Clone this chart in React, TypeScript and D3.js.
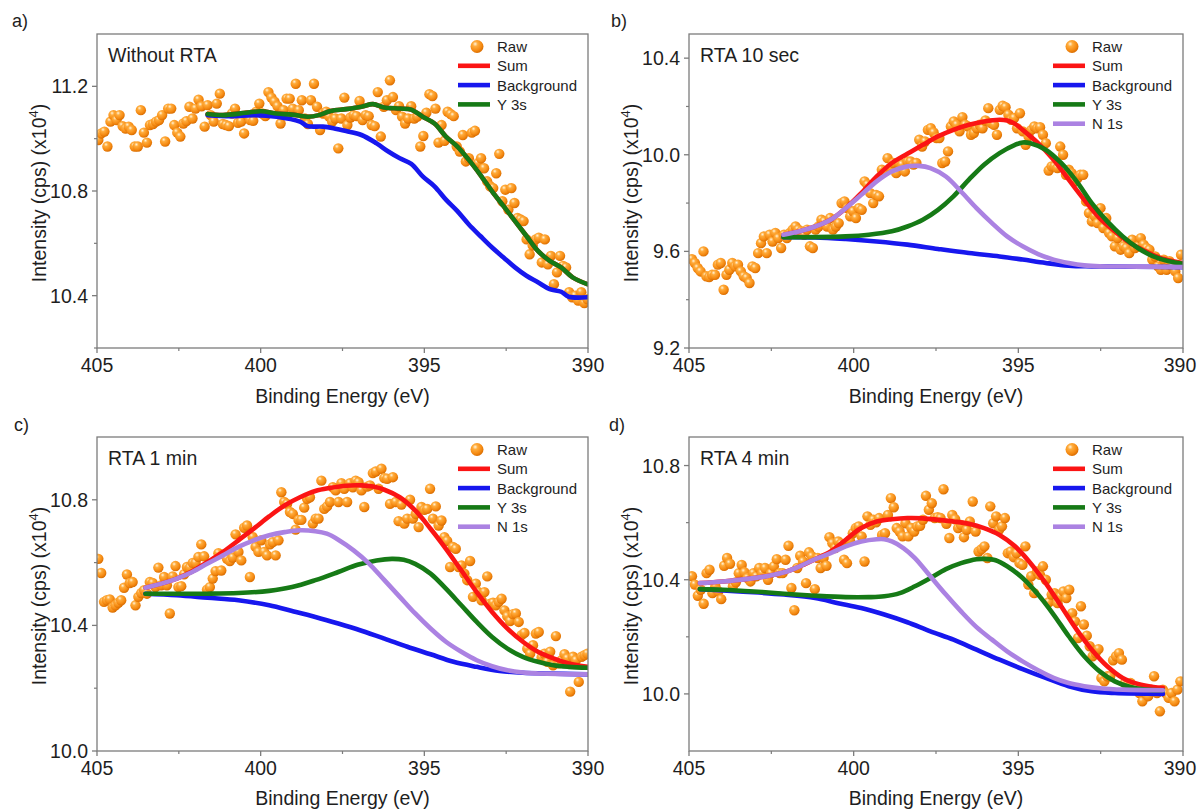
import React from 'react';
import * as d3 from 'd3';

const FONT = "'Liberation Sans', Arial, Helvetica, sans-serif";
const PAGE_W = 1197;
const PAGE_H = 810;

// ---------- shared axis data ----------
const xDomain = [405, 390];
const xMajorTicks = [405, 400, 395, 390];
const xMinorTicks = [402.5, 397.5, 392.5];

// ---------- panel a: Without RTA ----------
const aRawSpan = [404.96, 390.02];
const aRaw = [
  10.995, 11.020, 11.027, 10.970, 11.065, 11.090, 11.071, 11.090, 11.048, 11.039,
  11.046, 11.033, 10.970, 10.970, 11.109, 11.023, 10.985, 11.052, 11.056, 11.065,
  11.071, 11.090, 10.989, 11.115, 11.115, 11.052, 11.023, 11.008, 11.058, 11.067,
  11.122, 11.077, 11.115, 11.149, 11.124, 11.046, 11.128, 11.090, 11.065, 11.134,
  11.172, 11.056, 11.052, 11.048, 11.096, 11.115, 11.061, 11.065, 11.020, 11.090,
  11.071, 11.068, 11.103, 11.134, 11.096, 11.086, 11.178, 11.157, 11.141, 11.124,
  11.058, 11.109, 11.153, 11.153, 11.115, 11.210, 11.109, 11.147, 11.077, 11.056,
  11.147, 11.210, 11.122, 11.033, 11.096, 11.103, 11.084, 11.065, 11.077, 10.963,
  11.077, 11.157, 11.052, 11.081, 11.090, 11.086, 11.144, 11.071, 11.090, 11.086,
  11.052, 11.048, 11.178, 11.008, 11.122, 11.147, 11.223, 11.159, 11.109, 11.124,
  11.084, 11.058, 11.077, 11.124, 11.077, 11.084, 10.970, 11.010, 11.099, 11.170,
  11.163, 11.115, 10.985, 11.052, 10.992, 11.103, 11.094, 11.086, 10.970, 10.951,
  11.014, 10.913, 10.925, 11.023, 11.030, 10.906, 10.925, 10.887, 10.837, 10.818,
  10.811, 10.868, 10.942, 10.761, 10.805, 10.729, 10.811, 10.754, 10.697, 10.691,
  10.685, 10.615, 10.558, 10.592, 10.615, 10.622, 10.527, 10.615, 10.520, 10.552,
  10.444, 10.489, 10.552, 10.514, 10.508, 10.413, 10.394, 10.400, 10.381, 10.413,
  10.372, 10.387,
];
const aBackground = [
  [401.62, 11.090], [400.92, 11.086], [400.21, 11.090], [399.51, 11.084], [398.80, 11.065],
  [398.57, 11.048], [398.10, 11.046], [397.75, 11.039], [397.39, 11.029], [396.92, 11.014],
  [396.46, 10.982], [396.10, 10.951], [395.75, 10.925], [395.40, 10.904], [395.05, 10.856],
  [394.69, 10.818], [394.34, 10.767], [393.99, 10.723], [393.64, 10.672], [393.29, 10.628],
  [392.93, 10.584], [392.58, 10.546], [392.23, 10.508], [391.88, 10.476], [391.53, 10.451],
  [391.17, 10.425], [390.82, 10.415], [390.59, 10.396], [390.02, 10.394],
];
const aY3s = [
  [401.62, 11.094], [401.15, 11.090], [400.45, 11.099], [399.98, 11.105], [399.51, 11.096],
  [399.04, 11.092], [398.57, 11.084], [398.22, 11.090], [397.86, 11.106], [397.39, 11.113],
  [396.92, 11.122], [396.57, 11.132], [396.22, 11.119], [395.75, 11.115], [395.40, 11.111],
  [395.05, 11.084], [394.69, 11.058], [394.34, 11.008], [393.99, 10.970], [393.64, 10.919],
  [393.29, 10.862], [392.93, 10.799], [392.58, 10.742], [392.23, 10.685], [391.88, 10.628],
  [391.53, 10.571], [391.17, 10.533], [390.82, 10.508], [390.47, 10.470], [390.02, 10.444],
];
const aSum = aY3s;
const aYTicks = [10.4, 10.8, 11.2];
const aYMinor = [10.2, 10.6, 11.0];

// ---------- panel b: RTA 10 sec ----------
const bRawSpan = [404.91, 390.06];
const bRaw = [
  9.568, 9.552, 9.531, 9.517, 9.600, 9.497, 9.494, 9.503, 9.503, 9.545,
  9.552, 9.441, 9.503, 9.524, 9.552, 9.538, 9.545, 9.517, 9.497, 9.490,
  9.469, 9.538, 9.531, 9.593, 9.634, 9.662, 9.593, 9.669, 9.641, 9.676,
  9.655, 9.614, 9.669, 9.655, 9.676, 9.690, 9.703, 9.690, 9.683, 9.669,
  9.690, 9.621, 9.614, 9.690, 9.703, 9.731, 9.724, 9.703, 9.738, 9.690,
  9.703, 9.717, 9.800, 9.807, 9.779, 9.745, 9.766, 9.738, 9.779, 9.772,
  9.890, 9.876, 9.841, 9.800, 9.834, 9.828, 9.938, 9.931, 9.986, 9.945,
  9.966, 9.924, 9.966, 9.959, 9.931, 9.972, 9.972, 9.959, 9.966, 10.062,
  10.034, 10.055, 10.103, 10.110, 10.092, 10.069, 10.069, 9.966, 9.972, 10.014,
  10.117, 10.138, 10.124, 10.097, 10.156, 10.124, 10.117, 10.083, 10.090, 10.110,
  10.124, 10.110, 10.142, 10.193, 10.131, 10.124, 10.083, 10.186, 10.203, 10.197,
  10.166, 10.145, 10.152, 10.110, 10.172, 10.097, 10.041, 10.076, 10.103, 10.117,
  10.110, 10.114, 10.083, 10.048, 9.935, 9.952, 9.952, 9.945, 10.034, 10.000,
  9.917, 9.938, 9.924, 9.890, 9.903, 9.917, 9.917, 9.807, 9.759, 9.724,
  9.745, 9.717, 9.779, 9.697, 9.738, 9.676, 9.662, 9.621, 9.655, 9.607,
  9.621, 9.614, 9.593, 9.648, 9.614, 9.621, 9.655, 9.628, 9.614, 9.607,
  9.566, 9.579, 9.538, 9.524, 9.566, 9.524, 9.559, 9.538, 9.517, 9.490,
  9.586,
];
const bNitrogen = [
  [402.13, 9.669], [401.64, 9.683], [401.17, 9.703], [400.70, 9.731], [400.24, 9.779],
  [399.77, 9.834], [399.30, 9.890], [398.84, 9.931], [398.37, 9.952], [398.02, 9.954],
  [397.67, 9.945], [397.20, 9.910], [396.74, 9.848], [396.27, 9.779], [395.80, 9.717],
  [395.34, 9.662], [394.87, 9.621], [394.40, 9.589], [393.93, 9.566], [393.47, 9.552],
  [393.00, 9.542], [392.53, 9.538], [391.37, 9.537], [390.00, 9.535],
];
const bSum = [
  [402.13, 9.669], [401.64, 9.683], [401.17, 9.703], [400.70, 9.731], [400.24, 9.779],
  [399.77, 9.841], [399.30, 9.910], [398.84, 9.966], [398.37, 10.004], [397.90, 10.041],
  [397.44, 10.076], [396.97, 10.103], [396.50, 10.124], [396.04, 10.138], [395.57, 10.145],
  [395.34, 10.142], [395.10, 10.128], [394.87, 10.103], [394.40, 10.048], [393.93, 9.979],
  [393.47, 9.897], [393.00, 9.814], [392.53, 9.738], [392.07, 9.683], [391.60, 9.634],
  [391.13, 9.600], [390.67, 9.572], [390.00, 9.552],
];
const bY3s = [
  [402.13, 9.659], [401.17, 9.659], [400.24, 9.662], [399.54, 9.669], [398.84, 9.683],
  [398.37, 9.703], [397.90, 9.731], [397.44, 9.772], [396.97, 9.828], [396.50, 9.897],
  [396.04, 9.959], [395.57, 10.007], [395.10, 10.041], [394.87, 10.051], [394.63, 10.048],
  [394.17, 10.021], [393.70, 9.966], [393.23, 9.890], [392.77, 9.800], [392.30, 9.724],
  [391.83, 9.662], [391.37, 9.614], [390.90, 9.579], [390.43, 9.559], [390.00, 9.549],
];
const bBackground = [
  [402.13, 9.659], [401.17, 9.658], [400.24, 9.651], [399.30, 9.641], [398.37, 9.628],
  [397.44, 9.610], [396.50, 9.593], [395.57, 9.579], [394.87, 9.566], [394.17, 9.552],
  [393.47, 9.541], [392.77, 9.538], [390.00, 9.535],
];
const bYTicks = [9.2, 9.6, 10.0, 10.4];
const bYMinor = [9.4, 9.8, 10.2];

// ---------- panel c: RTA 1 min ----------
const cRawSpan = [404.96, 390.02];
const cRaw = [
  10.612, 10.567, 10.475, 10.480, 10.483, 10.457, 10.464, 10.472, 10.480, 10.520,
  10.562, 10.535, 10.538, 10.464, 10.491, 10.503, 10.512, 10.501, 10.538, 10.535,
  10.522, 10.584, 10.528, 10.554, 10.528, 10.438, 10.556, 10.589, 10.522, 10.525,
  10.563, 10.586, 10.584, 10.599, 10.599, 10.618, 10.658, 10.620, 10.514, 10.522,
  10.549, 10.573, 10.630, 10.575, 10.626, 10.612, 10.605, 10.616, 10.690, 10.634,
  10.607, 10.711, 10.718, 10.554, 10.681, 10.650, 10.634, 10.671, 10.634, 10.623,
  10.658, 10.665, 10.623, 10.671, 10.824, 10.793, 10.787, 10.761, 10.755, 10.705,
  10.736, 10.736, 10.775, 10.803, 10.808, 10.724, 10.740, 10.740, 10.861, 10.771,
  10.779, 10.793, 10.840, 10.830, 10.793, 10.853, 10.835, 10.793, 10.853, 10.840,
  10.861, 10.856, 10.830, 10.777, 10.842, 10.846, 10.885, 10.890, 10.835, 10.899,
  10.869, 10.867, 10.787, 10.872, 10.793, 10.732, 10.785, 10.724, 10.740, 10.800,
  10.740, 10.755, 10.713, 10.777, 10.768, 10.771, 10.835, 10.740, 10.779, 10.718,
  10.734, 10.681, 10.669, 10.586, 10.650, 10.644, 10.586, 10.591, 10.565, 10.544,
  10.605, 10.491, 10.533, 10.506, 10.480, 10.506, 10.556, 10.469, 10.472, 10.464,
  10.475, 10.485, 10.448, 10.429, 10.414, 10.436, 10.438, 10.411, 10.369, 10.376,
  10.326, 10.310, 10.337, 10.374, 10.379, 10.298, 10.310, 10.284, 10.316, 10.273,
  10.366, 10.279, 10.289, 10.308, 10.295, 10.189, 10.300, 10.289, 10.220, 10.300,
  10.305, 10.310,
];
const cNitrogen = [
  [403.52, 10.520], [403.03, 10.533], [402.56, 10.549], [402.09, 10.570], [401.62, 10.597],
  [401.15, 10.623], [400.68, 10.650], [400.21, 10.671], [399.74, 10.687], [399.27, 10.697],
  [398.80, 10.703], [398.33, 10.700], [397.98, 10.692], [397.63, 10.673], [397.16, 10.639],
  [396.69, 10.597], [396.22, 10.544], [395.75, 10.491], [395.28, 10.438], [394.81, 10.390],
  [394.34, 10.348], [393.87, 10.316], [393.40, 10.289], [392.93, 10.270], [392.46, 10.257],
  [391.99, 10.250], [391.53, 10.247], [390.94, 10.245], [390.00, 10.244],
];
const cSum = [
  [403.52, 10.520], [403.03, 10.533], [402.56, 10.549], [402.09, 10.572], [401.62, 10.602],
  [401.15, 10.634], [400.68, 10.671], [400.21, 10.708], [399.74, 10.747], [399.27, 10.782],
  [398.80, 10.808], [398.33, 10.828], [397.86, 10.838], [397.39, 10.845], [396.92, 10.846],
  [396.57, 10.842], [396.22, 10.832], [395.75, 10.808], [395.28, 10.766], [394.81, 10.708],
  [394.34, 10.644], [393.87, 10.575], [393.40, 10.506], [392.93, 10.443], [392.46, 10.390],
  [391.99, 10.348], [391.53, 10.316], [391.06, 10.295], [390.59, 10.279], [390.00, 10.268],
];
const cY3s = [
  [403.52, 10.501], [402.56, 10.501], [401.62, 10.501], [400.68, 10.503], [399.74, 10.510],
  [399.04, 10.522], [398.33, 10.544], [397.63, 10.570], [397.04, 10.593], [396.46, 10.607],
  [395.99, 10.612], [395.63, 10.609], [395.28, 10.596], [394.81, 10.565], [394.34, 10.517],
  [393.87, 10.464], [393.40, 10.411], [392.93, 10.363], [392.46, 10.326], [391.99, 10.300],
  [391.53, 10.284], [391.06, 10.273], [390.59, 10.268], [390.00, 10.265],
];
const cBackground = [
  [403.52, 10.501], [402.56, 10.496], [401.62, 10.488], [400.68, 10.480], [399.74, 10.464],
  [399.04, 10.446], [398.33, 10.427], [397.63, 10.406], [396.92, 10.383], [396.22, 10.358],
  [395.52, 10.332], [394.81, 10.308], [394.11, 10.284], [393.40, 10.268], [392.70, 10.255],
  [391.99, 10.249], [391.29, 10.247], [390.00, 10.244],
];
const cYTicks = [10.0, 10.4, 10.8];
const cYMinor = [10.2, 10.6];

// ---------- panel d: RTA 4 min ----------
const dRawSpan = [404.91, 390.08];
const dRaw = [
  10.412, 10.383, 10.344, 10.365, 10.316, 10.423, 10.435, 10.353, 10.377, 10.359,
  10.332, 10.449, 10.476, 10.456, 10.377, 10.391, 10.423, 10.452, 10.426, 10.406,
  10.394, 10.423, 10.412, 10.441, 10.423, 10.441, 10.400, 10.423, 10.447, 10.472,
  10.423, 10.423, 10.470, 10.519, 10.371, 10.293, 10.441, 10.484, 10.464, 10.388,
  10.496, 10.482, 10.367, 10.476, 10.441, 10.476, 10.449, 10.549, 10.528, 10.511,
  10.534, 10.526, 10.470, 10.458, 10.538, 10.563, 10.581, 10.587, 10.552, 10.464,
  10.622, 10.592, 10.610, 10.601, 10.616, 10.557, 10.563, 10.627, 10.686, 10.654,
  10.581, 10.569, 10.552, 10.598, 10.552, 10.581, 10.569, 10.587, 10.589, 10.610,
  10.694, 10.645, 10.668, 10.616, 10.619, 10.616, 10.717, 10.596, 10.546, 10.627,
  10.612, 10.581, 10.592, 10.549, 10.575, 10.604, 10.674, 10.569, 10.499, 10.507,
  10.517, 10.476, 10.657, 10.598, 10.622, 10.575, 10.587, 10.616, 10.493, 10.499,
  10.479, 10.493, 10.458, 10.452, 10.517, 10.383, 10.412, 10.353, 10.429, 10.417,
  10.447, 10.400, 10.321, 10.348, 10.353, 10.318, 10.342, 10.359, 10.336, 10.365,
  10.283, 10.254, 10.196, 10.307, 10.243, 10.204, 10.167, 10.132, 10.143, 10.157,
  10.056, 10.044, 10.062, 10.062, 10.118, 10.132, 10.143, 10.120, 10.038, 10.033,
  10.038, 10.015, 10.021, 10.003, 9.974, 10.003, 9.992, 10.015, 10.062, 10.003,
  9.939, 10.015, 10.003, 9.986, 10.003, 9.974, 10.015, 10.044,
];
const dNitrogen = [
  [404.67, 10.388], [403.97, 10.394], [403.27, 10.402], [402.57, 10.414], [402.11, 10.426],
  [401.64, 10.447], [401.17, 10.472], [400.70, 10.493], [400.24, 10.517], [399.77, 10.534],
  [399.30, 10.542], [399.07, 10.542], [398.84, 10.534], [398.49, 10.511], [398.14, 10.476],
  [397.67, 10.412], [397.20, 10.348], [396.74, 10.289], [396.27, 10.234], [395.80, 10.190],
  [395.34, 10.149], [394.87, 10.114], [394.40, 10.083], [393.93, 10.056], [393.47, 10.038],
  [393.00, 10.027], [392.53, 10.020], [391.83, 10.015], [390.61, 10.013],
];
const dSum = [
  [404.67, 10.388], [403.97, 10.394], [403.27, 10.402], [402.57, 10.414], [402.11, 10.426],
  [401.64, 10.447], [401.17, 10.472], [400.70, 10.499], [400.24, 10.540], [399.77, 10.581],
  [399.30, 10.604], [398.84, 10.612], [398.37, 10.616], [397.90, 10.615], [397.44, 10.610],
  [396.97, 10.604], [396.50, 10.596], [396.04, 10.581], [395.57, 10.557], [395.10, 10.517],
  [394.63, 10.458], [394.17, 10.388], [393.70, 10.307], [393.23, 10.225], [392.77, 10.155],
  [392.30, 10.097], [391.83, 10.056], [391.37, 10.035], [390.90, 10.024], [390.61, 10.021],
];
const dY3s = [
  [404.67, 10.367], [403.97, 10.365], [403.04, 10.359], [402.11, 10.351], [401.17, 10.344],
  [400.24, 10.339], [399.54, 10.339], [399.07, 10.342], [398.60, 10.353], [398.14, 10.377],
  [397.67, 10.406], [397.20, 10.437], [396.74, 10.458], [396.27, 10.472], [396.04, 10.473],
  [395.69, 10.468], [395.34, 10.447], [394.87, 10.406], [394.40, 10.348], [393.93, 10.278],
  [393.47, 10.202], [393.00, 10.132], [392.53, 10.079], [392.07, 10.044], [391.60, 10.024],
  [391.13, 10.015], [390.61, 10.013],
];
const dBackground = [
  [404.67, 10.367], [403.97, 10.362], [403.04, 10.356], [402.11, 10.348], [401.17, 10.336],
  [400.47, 10.318], [399.77, 10.301], [399.07, 10.278], [398.37, 10.251], [397.67, 10.219],
  [396.97, 10.190], [396.27, 10.155], [395.57, 10.120], [394.87, 10.087], [394.17, 10.056],
  [393.47, 10.027], [392.77, 10.009], [392.07, 10.003], [390.61, 10.000],
];
const dYTicks = [10.0, 10.4, 10.8];
const dYMinor = [10.2, 10.6];

// ---------- styles ----------
const COLORS = {
  sum: '#fb1414',
  background: '#1717ee',
  y3s: '#167a16',
  n1s: '#ab82e2',
  frame: '#7c7c7c',
  text: '#1e1e1e',
};

type Series = number[][];
type PanelDef = {
  key: string;
  letter: string;
  letterX: number;
  letterY: number;
  title: string;
  left: number; right: number; top: number; bottom: number;
  yDomain: number[];
  yTicks: number[];
  yMinor: number[];
  raw: number[];
  rawSpan: number[];
  sum: Series;
  background: Series;
  y3s: Series;
  n1s: Series | null;
  showN1sLegend: boolean;
};

const panels: PanelDef[] = [
  { key: 'a', letter: 'a)', letterX: 12, letterY: 27, title: 'Without RTA', left: 97, right: 588, top: 34, bottom: 348,
    yDomain: [10.2, 11.4], yTicks: aYTicks, yMinor: aYMinor, raw: aRaw, rawSpan: aRawSpan,
    sum: aSum, background: aBackground, y3s: aY3s, n1s: null, showN1sLegend: false },
  { key: 'b', letter: 'b)', letterX: 611, letterY: 27, title: 'RTA 10 sec', left: 689, right: 1183, top: 34, bottom: 348,
    yDomain: [9.2, 10.5], yTicks: bYTicks, yMinor: bYMinor, raw: bRaw, rawSpan: bRawSpan,
    sum: bSum, background: bBackground, y3s: bY3s, n1s: bNitrogen, showN1sLegend: true },
  { key: 'c', letter: 'c)', letterX: 14, letterY: 431, title: 'RTA 1 min', left: 97, right: 588, top: 437, bottom: 751,
    yDomain: [10.0, 11.0], yTicks: cYTicks, yMinor: cYMinor, raw: cRaw, rawSpan: cRawSpan,
    sum: cSum, background: cBackground, y3s: cY3s, n1s: cNitrogen, showN1sLegend: true },
  { key: 'd', letter: 'd)', letterX: 609, letterY: 431, title: 'RTA 4 min', left: 689, right: 1183, top: 437, bottom: 751,
    yDomain: [9.8, 10.9], yTicks: dYTicks, yMinor: dYMinor, raw: dRaw, rawSpan: dRawSpan,
    sum: dSum, background: dBackground, y3s: dY3s, n1s: dNitrogen, showN1sLegend: true },
];

function Panel({ p }: { p: PanelDef }) {
  const x = d3.scaleLinear().domain(xDomain).range([p.left, p.right]);
  const y = d3.scaleLinear().domain(p.yDomain).range([p.bottom, p.top]);
  const line = d3
    .line<number[]>()
    .x((d) => x(d[0]))
    .y((d) => y(d[1]))
    .curve(d3.curveCatmullRom.alpha(0.5));
  const idx = d3.scaleLinear().domain([0, p.raw.length - 1]).range(p.rawSpan);
  const clipId = `clip-${p.key}`;
  const lw = 4.6;
  const tickFont = 19.5;

  const legendItems: { label: string; color: string | null }[] = [
    { label: 'Raw', color: null },
    { label: 'Sum', color: COLORS.sum },
    { label: 'Background', color: COLORS.background },
    { label: 'Y 3s', color: COLORS.y3s },
  ];
  if (p.showN1sLegend) legendItems.push({ label: 'N 1s', color: COLORS.n1s });
  const legX = p.right - 130;
  const legY = p.top + 12.5;
  const rowH = 19.3;

  const midY = (p.top + p.bottom) / 2 + 2;
  const midX = (p.left + p.right) / 2;
  const titleY = Math.min(p.bottom + 55, PAGE_H - 5);

  return (
    <g>
      <defs>
        <clipPath id={clipId}>
          <rect x={p.left} y={p.top} width={p.right - p.left} height={p.bottom - p.top} />
        </clipPath>
      </defs>
      <text x={p.letterX} y={p.letterY} fontSize={18} fontFamily={FONT} fill={COLORS.text}>{p.letter}</text>

      {/* data */}
      <g clipPath={`url(#${clipId})`}>
        {p.raw.map((v, i) => (
          <circle key={i} cx={x(idx(i))} cy={y(v)} r={5.2} fill="url(#ball)" />
        ))}
        <path d={line(p.sum) || ''} fill="none" stroke={COLORS.sum} strokeWidth={lw} strokeLinejoin="round" strokeLinecap="round" />
        <path d={line(p.background) || ''} fill="none" stroke={COLORS.background} strokeWidth={lw} strokeLinejoin="round" strokeLinecap="round" />
        <path d={line(p.y3s) || ''} fill="none" stroke={COLORS.y3s} strokeWidth={lw} strokeLinejoin="round" strokeLinecap="round" />
        {p.n1s && (
          <path d={line(p.n1s) || ''} fill="none" stroke={COLORS.n1s} strokeWidth={lw} strokeLinejoin="round" strokeLinecap="round" />
        )}
      </g>

      {/* frame */}
      <rect x={p.left} y={p.top} width={p.right - p.left} height={p.bottom - p.top} fill="none" stroke={COLORS.frame} strokeWidth={1.3} />

      {/* x ticks */}
      {xMajorTicks.map((t) => {
        const lx = Math.min(x(t), PAGE_W - 17);
        return (
          <g key={`xm${t}`}>
            <line x1={x(t)} x2={x(t)} y1={p.bottom} y2={p.bottom + 5} stroke={COLORS.frame} strokeWidth={1.3} />
            <text x={lx} y={p.bottom + 24} fontSize={tickFont} fontFamily={FONT} textAnchor="middle" fill={COLORS.text}>{t}</text>
          </g>
        );
      })}
      {xMinorTicks.map((t) => (
        <line key={`xn${t}`} x1={x(t)} x2={x(t)} y1={p.bottom} y2={p.bottom + 3} stroke={COLORS.frame} strokeWidth={1.2} />
      ))}
      {/* y ticks */}
      {p.yTicks.map((t) => (
        <g key={`ym${t}`}>
          <line x1={p.left - 5} x2={p.left} y1={y(t)} y2={y(t)} stroke={COLORS.frame} strokeWidth={1.3} />
          <text x={p.left - 9} y={y(t)} dy="0.36em" fontSize={tickFont} fontFamily={FONT} textAnchor="end" fill={COLORS.text}>{t.toFixed(1)}</text>
        </g>
      ))}
      {p.yMinor.map((t) => (
        <line key={`yn${t}`} x1={p.left - 3} x2={p.left} y1={y(t)} y2={y(t)} stroke={COLORS.frame} strokeWidth={1.2} />
      ))}

      {/* axis titles */}
      <text x={midX} y={titleY} fontSize={19.5} fontFamily={FONT} textAnchor="middle" fill={COLORS.text}>Binding Energy (eV)</text>
      <text transform={`translate(${p.left - 51},${midY}) rotate(-90)`} fontSize={19.5} fontFamily={FONT} textAnchor="middle" fill={COLORS.text}>
        Intensity (cps) (x10<tspan dy={-8} fontSize={13}>4</tspan><tspan dy={8}>)</tspan>
      </text>

      {/* panel title */}
      <text x={p.left + 11} y={p.top + 28} fontSize={19.5} fontFamily={FONT} fill={COLORS.text}>{p.title}</text>

      {/* legend */}
      {legendItems.map((it, i) => {
        const yy = legY + i * rowH;
        return (
          <g key={it.label}>
            {it.color ? (
              <line x1={legX} x2={legX + 32} y1={yy} y2={yy} stroke={it.color} strokeWidth={4.6} />
            ) : (
              <circle cx={legX + 19} cy={yy} r={6.5} fill="url(#ball)" />
            )}
            <text x={legX + 39} y={yy} dy="0.36em" fontSize={15} fontFamily={FONT} fill={COLORS.text}>{it.label}</text>
          </g>
        );
      })}
    </g>
  );
}

export default function App() {
  return (
    <svg
      width={PAGE_W}
      height={PAGE_H}
      viewBox={`0 0 ${PAGE_W} ${PAGE_H}`}
      style={{ position: 'absolute', left: 0, top: 0, background: '#ffffff' }}
    >
      <defs>
        <radialGradient id="ball" cx="0.38" cy="0.34" r="0.68" fx="0.36" fy="0.3">
          <stop offset="0" stopColor="#fff4dc" />
          <stop offset="0.28" stopColor="#ffac3c" />
          <stop offset="0.72" stopColor="#f58a12" />
          <stop offset="1" stopColor="#d86c00" />
        </radialGradient>
      </defs>
      <rect x={0} y={0} width={PAGE_W} height={PAGE_H} fill="#fff" />
      {panels.map((p) => (
        <Panel key={p.key} p={p} />
      ))}
    </svg>
  );
}
